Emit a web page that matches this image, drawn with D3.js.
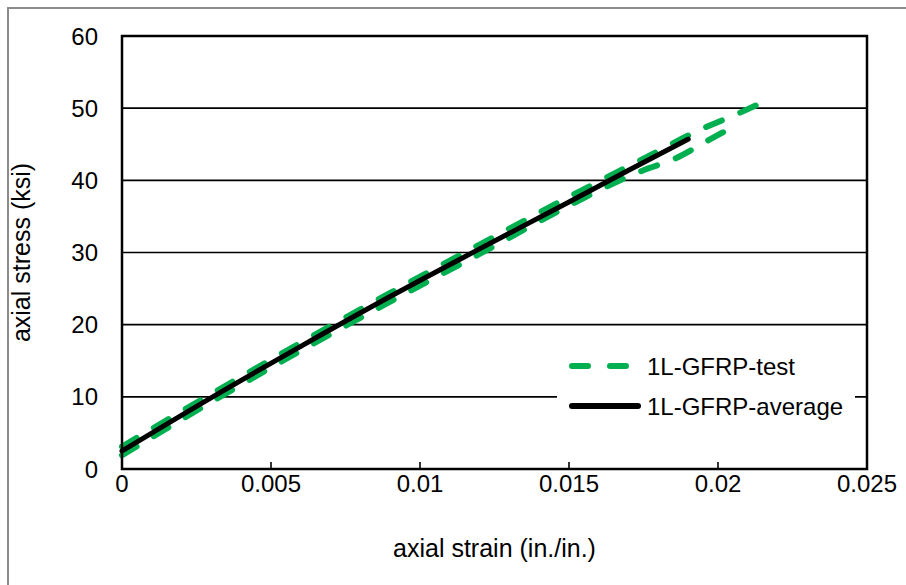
<!DOCTYPE html>
<html>
<head>
<meta charset="utf-8">
<script src="https://cdn.jsdelivr.net/npm/d3@7"></script>
<style>
  body { margin: 0; background: #fff; }
  text { font-family: "Liberation Sans", Arial, sans-serif; fill: #000; }
</style>
</head>
<body>
<div id="chart"></div>
<script>
// strain (in./in.) vs stress (ksi)
const avgStrain = [0, 0.003, 0.006, 0.009, 0.012, 0.015, 0.017, 0.019];
const avgStress = [2.5, 9.9, 17.0, 23.9, 30.5, 37.0, 41.4, 45.7];

const testAStrain = [0, 0.003, 0.006, 0.009, 0.012, 0.015, 0.0175, 0.0195, 0.0207, 0.0216];
const testAStress = [3.1, 10.4, 17.5, 24.4, 31.1, 37.7, 43.0, 47.2, 49.3, 51.0];

const testBStrain = [0, 0.003, 0.006, 0.009, 0.012, 0.015, 0.0165, 0.0175, 0.0185, 0.0197, 0.0205];
const testBStress = [1.9, 9.3, 16.4, 23.2, 29.8, 36.5, 39.6, 41.4, 42.9, 45.6, 47.4];

const xTicks = [0, 0.005, 0.01, 0.015, 0.02, 0.025];
const xTickLabels = ["0", "0.005", "0.01", "0.015", "0.02", "0.025"];
const yTicks = [0, 10, 20, 30, 40, 50, 60];

const legendNames = ["1L-GFRP-test", "1L-GFRP-average"];

const W = 906, H = 585;
const pLeft = 122, pRight = 867, pTop = 36, pBottom = 469;
const green = "#00B050";

const svg = d3.select("#chart").append("svg")
    .attr("width", W)
    .attr("height", H);

// outer frame
svg.append("rect")
    .attr("x", 8).attr("y", 8)
    .attr("width", W + 10).attr("height", H + 10)
    .attr("fill", "#fff")
    .attr("stroke", "#8c8c8c")
    .attr("stroke-width", 2);

const x = d3.scaleLinear().domain([0, 0.025]).range([pLeft, pRight]);
const y = d3.scaleLinear().domain([0, 60]).range([pBottom, pTop]);

// gridlines
svg.append("g")
    .selectAll("line")
    .data(yTicks.slice(1, -1))
    .enter()
    .append("line")
    .attr("x1", pLeft).attr("x2", pRight)
    .attr("y1", d => y(d)).attr("y2", d => y(d))
    .attr("stroke", "#000")
    .attr("stroke-width", 1.6);

// x axis tick marks (inside)
svg.append("g")
    .selectAll("line")
    .data(xTicks)
    .enter()
    .append("line")
    .attr("x1", d => x(d)).attr("x2", d => x(d))
    .attr("y1", pBottom).attr("y2", pBottom - 7)
    .attr("stroke", "#000")
    .attr("stroke-width", 1.6);

// tick labels
svg.append("g")
    .selectAll("text")
    .data(xTicks)
    .enter()
    .append("text")
    .attr("x", d => x(d))
    .attr("y", pBottom + 23)
    .attr("text-anchor", "middle")
    .style("font-size", "24px")
    .text((d, i) => xTickLabels[i]);

svg.append("g")
    .selectAll("text")
    .data(yTicks)
    .enter()
    .append("text")
    .attr("x", pLeft - 24)
    .attr("y", d => y(d))
    .attr("dy", "0.36em")
    .attr("text-anchor", "end")
    .style("font-size", "24px")
    .text(d => d);

const line = d3.line()
    .x(d => x(d[0]))
    .y(d => y(d[1]))
    .curve(d3.curveMonotoneX);

const testA = d3.zip(testAStrain, testAStress);
const testB = d3.zip(testBStrain, testBStress);
const avg = d3.zip(avgStrain, avgStress);

[testA, testB].forEach(series => {
    svg.append("path")
        .datum(series)
        .attr("d", line)
        .attr("fill", "none")
        .attr("stroke", green)
        .attr("stroke-width", 6)
        .attr("stroke-linecap", "round")
        .attr("stroke-dasharray", "17,20");
});

svg.append("path")
    .datum(avg)
    .attr("d", line)
    .attr("fill", "none")
    .attr("stroke", "#000")
    .attr("stroke-width", 5)
    .attr("stroke-linecap", "round");

// plot border
svg.append("rect")
    .attr("x", pLeft).attr("y", pTop)
    .attr("width", pRight - pLeft).attr("height", pBottom - pTop)
    .attr("fill", "none")
    .attr("stroke", "#000")
    .attr("stroke-width", 2.5);

// legend
const lg = svg.append("g");
lg.append("rect")
    .attr("x", 557).attr("y", 345)
    .attr("width", 298).attr("height", 80)
    .attr("fill", "#fff");
lg.append("line")
    .attr("x1", 572).attr("x2", 632)
    .attr("y1", 366).attr("y2", 366)
    .attr("stroke", green)
    .attr("stroke-width", 6)
    .attr("stroke-linecap", "round")
    .attr("stroke-dasharray", "16,22");
lg.append("line")
    .attr("x1", 572).attr("x2", 638)
    .attr("y1", 406).attr("y2", 406)
    .attr("stroke", "#000")
    .attr("stroke-width", 6)
    .attr("stroke-linecap", "round");
lg.selectAll("text.lbl")
    .data(legendNames)
    .enter()
    .append("text")
    .attr("class", "lbl")
    .attr("x", 647)
    .attr("y", (d, i) => 366 + i * 40)
    .attr("dy", "0.36em")
    .style("font-size", "24px")
    .text(d => d);

// axis titles
svg.append("text")
    .attr("x", (pLeft + pRight) / 2)
    .attr("y", 557)
    .attr("text-anchor", "middle")
    .style("font-size", "25px")
    .text("axial strain (in./in.)");

svg.append("text")
    .attr("transform", `translate(30, ${(pTop + pBottom) / 2}) rotate(-90)`)
    .attr("text-anchor", "middle")
    .style("font-size", "25px")
    .text("axial stress (ksi)");
</script>
</body>
</html>
